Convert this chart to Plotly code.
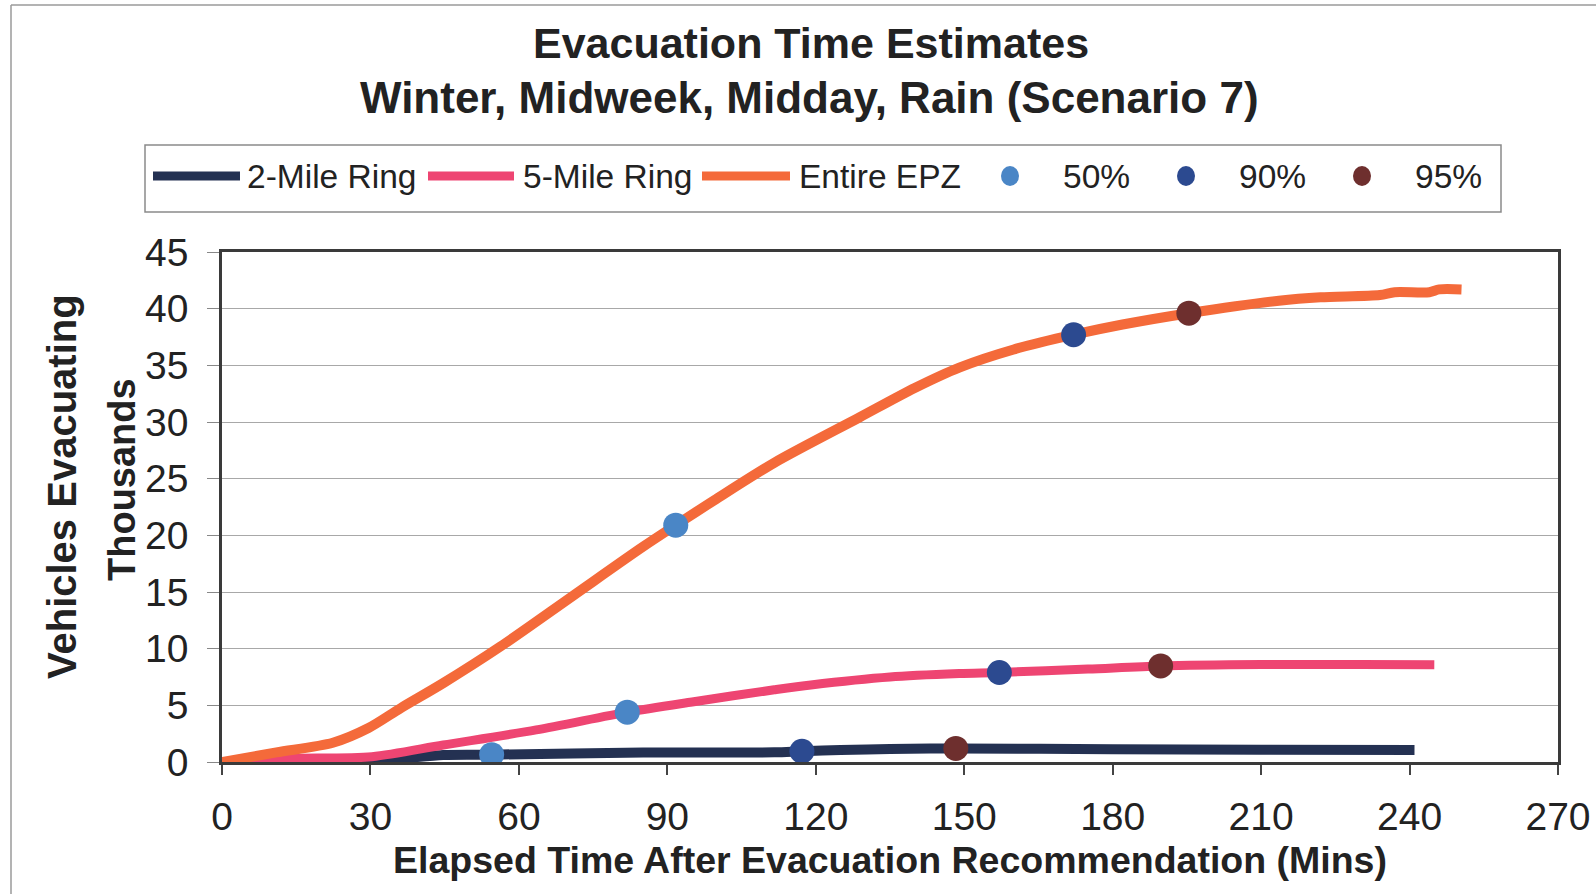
import plotly.graph_objects as go

# ---------------- data ----------------
t_2mile = [0, 15, 30.3, 44.7, 54.5, 85.1, 111.6, 117.2, 125, 135, 148.3, 180, 210, 241]
v_2mile = [0, 0.03, 0.1, 0.62, 0.65, 0.83, 0.85, 0.95, 1.05, 1.15, 1.2, 1.12, 1.08, 1.05]

t_5mile = [0, 13, 30.3, 44.7, 63.5, 81.9, 95, 111.6, 119, 135, 149, 157.1, 175, 189.7, 210, 230, 245]
v_5mile = [0, 0.32, 0.47, 1.5, 2.83, 4.4, 5.3, 6.37, 6.8, 7.5, 7.8, 7.9, 8.2, 8.48, 8.6, 8.6, 8.57]

t_epz = [0, 11, 22.4, 29.6, 36.1, 44.7, 56.3, 70.7, 85.1, 91.7, 99.5, 111.6, 128.8, 140, 149, 160, 172.1,
         182, 195.4, 213.6, 222, 234, 237, 244, 246, 250.5]
v_epz = [0, 0.85, 1.7, 3.0, 4.75, 6.96, 10.2, 14.6, 19.0, 20.9, 23.1, 26.4, 30.4, 33.0, 34.8, 36.4, 37.7,
         38.6, 39.6, 40.7, 41.0, 41.2, 41.45, 41.45, 41.7, 41.7]

t_50 = [54.5, 81.9, 91.7]
v_50 = [0.65, 4.4, 20.9]
t_90 = [117.2, 157.1, 172.1]
v_90 = [0.95, 7.9, 37.7]
t_95 = [148.3, 189.7, 195.4]
v_95 = [1.2, 8.48, 39.6]

x_ticks = [0, 30, 60, 90, 120, 150, 180, 210, 240, 270]
y_ticks = [0, 5, 10, 15, 20, 25, 30, 35, 40, 45]

series_names = ["2-Mile Ring", "5-Mile Ring", "Entire EPZ"]
marker_names = ["50%", "90%", "95%"]

title_1 = "Evacuation Time Estimates"
title_2 = "Winter, Midweek, Midday, Rain (Scenario 7)"
x_title = "Elapsed Time After Evacuation Recommendation (Mins)"
y_title = "Vehicles Evacuating"
y_unit = "Thousands"

# ---------------- styling ----------------
FONT = "Liberation Sans, Arial, sans-serif"
C_NAVY = "#243152"
C_PINK = "#EE4572"
C_ORANGE = "#F46A3A"
C_50 = "#4A86C6"
C_90 = "#2C4A90"
C_95 = "#6E2F2E"
TXT = "#222222"

W, H = 1596, 894
L, R, T, B = 222, 38, 252, 132
PW = W - L - R
PH = H - T - B


def px(x):
    return (x - L) / PW


def py(y):
    return (H - B - y) / PH


fig = go.Figure()

line_colors = [C_NAVY, C_PINK, C_ORANGE]
line_widths = [10, 9, 10]
for name, tx, vy, col, lw in zip(series_names, [t_2mile, t_5mile, t_epz], [v_2mile, v_5mile, v_epz],
                                 line_colors, line_widths):
    fig.add_trace(go.Scatter(x=tx, y=vy, mode="lines", name=name,
                             line=dict(color=col, width=lw, shape="spline", smoothing=0.8),
                             showlegend=False))

mk_colors = [C_50, C_90, C_95]
for name, tx, vy, col in zip(marker_names, [t_50, t_90, t_95], [v_50, v_90, v_95], mk_colors):
    fig.add_trace(go.Scatter(x=tx, y=vy, mode="markers", name=name,
                             marker=dict(color=col, size=25, line=dict(width=0)),
                             showlegend=False))

shapes = []
annotations = []

# outer chart border (left and top visible)
shapes.append(dict(type="line", xref="paper", yref="paper", x0=px(11), x1=px(11), y0=py(5), y1=py(900),
                   line=dict(color="#9a9a9a", width=1.5)))
shapes.append(dict(type="line", xref="paper", yref="paper", x0=px(11), x1=px(1600), y0=py(5), y1=py(5),
                   line=dict(color="#9a9a9a", width=1.5)))

# legend box
shapes.append(dict(type="rect", xref="paper", yref="paper", x0=px(145), x1=px(1501), y0=py(145), y1=py(212),
                   line=dict(color="#8a8a8a", width=1.5), fillcolor="rgba(0,0,0,0)"))
leg_y = 176
LEG_FONT = dict(family=FONT, size=33.5, color=TXT)
line_items = [(153, 240, 245), (428, 514, 521), (702, 790, 797)]
for (x0, x1, xt), name, col in zip(line_items, series_names, line_colors):
    shapes.append(dict(type="line", xref="paper", yref="paper", x0=px(x0), x1=px(x1), y0=py(leg_y), y1=py(leg_y),
                       line=dict(color=col, width=9)))
    annotations.append(dict(x=px(xt), y=py(leg_y), xref="paper", yref="paper", xanchor="left", yanchor="middle",
                            text=name, showarrow=False, font=LEG_FONT))
mk_items = [(1010, 1061), (1186, 1237), (1362, 1413)]
for (xm, xt), name, col in zip(mk_items, marker_names, mk_colors):
    shapes.append(dict(type="circle", xref="paper", yref="paper", xsizemode="pixel", ysizemode="pixel",
                       xanchor=px(xm), yanchor=py(leg_y), x0=-9, x1=9, y0=-10, y1=10,
                       fillcolor=col, line=dict(width=0)))
    annotations.append(dict(x=px(xt), y=py(leg_y), xref="paper", yref="paper", xanchor="left", yanchor="middle",
                            text=name, showarrow=False, font=LEG_FONT))

# titles
annotations.append(dict(x=px(811), y=py(43), xref="paper", yref="paper", xanchor="center", yanchor="middle",
                        text="<b>%s</b>" % title_1, showarrow=False, font=dict(family=FONT, size=43, color=TXT)))
annotations.append(dict(x=px(809), y=py(98), xref="paper", yref="paper", xanchor="center", yanchor="middle",
                        text="<b>%s</b>" % title_2, showarrow=False, font=dict(family=FONT, size=44, color=TXT)))
# axis titles
annotations.append(dict(x=px(890), y=py(860), xref="paper", yref="paper", xanchor="center", yanchor="middle",
                        text="<b>%s</b>" % x_title, showarrow=False, font=dict(family=FONT, size=37.5, color=TXT)))
annotations.append(dict(x=px(62), y=py(487), xref="paper", yref="paper", xanchor="center", yanchor="middle",
                        textangle=-90, text="<b>%s</b>" % y_title, showarrow=False,
                        font=dict(family=FONT, size=40, color=TXT)))
annotations.append(dict(x=px(122), y=py(480), xref="paper", yref="paper", xanchor="center", yanchor="middle",
                        textangle=-90, text="<b>%s</b>" % y_unit, showarrow=False,
                        font=dict(family=FONT, size=38, color=TXT)))

fig.update_layout(
    width=W, height=H,
    margin=dict(l=L, r=R, t=T, b=B, autoexpand=False),
    paper_bgcolor="white", plot_bgcolor="white",
    font=dict(family=FONT, color=TXT),
    showlegend=False,
    shapes=shapes,
    annotations=annotations,
    xaxis=dict(range=[0, 270], tickvals=x_ticks, ticktext=[str(v) for v in x_ticks],
               ticks="outside", ticklen=10, tickwidth=1.5, tickcolor="#444",
               showline=True, linecolor="#3a3a3a", linewidth=2.5, mirror=True,
               showgrid=False, zeroline=False, ticklabelstandoff=8,
               tickfont=dict(family=FONT, size=39, color=TXT)),
    yaxis=dict(range=[0, 45], tickvals=y_ticks, ticktext=[str(v) for v in y_ticks],
               ticks="outside", ticklen=12, tickwidth=1.2, tickcolor="#888",
               showline=True, linecolor="#3a3a3a", linewidth=2.5, mirror=True,
               showgrid=True, gridcolor="#a8a8a8", gridwidth=1.2, zeroline=False,
               ticklabelstandoff=11,
               tickfont=dict(family=FONT, size=39, color=TXT)),
)

fig.write_html("out.html", config={"displayModeBar": False},
               post_script="document.body.style.margin='0px';document.body.style.overflow='hidden';")
